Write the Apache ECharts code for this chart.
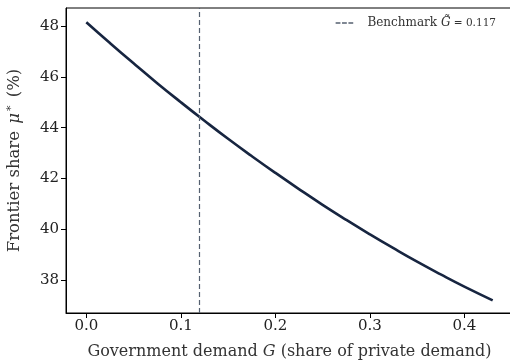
<!DOCTYPE html>
<html>
<head>
<meta charset="utf-8">
<script src="https://cdn.jsdelivr.net/npm/echarts@6/dist/echarts.min.js"></script>
<style>html,body{margin:0;padding:0;background:#fff;}#c{width:510px;height:360px;}</style>
</head>
<body>
<div id="c"></div>
<script>
var gValues = [0, 0.025, 0.05, 0.075, 0.1, 0.125, 0.15, 0.175, 0.2, 0.225, 0.25, 0.275, 0.3, 0.325, 0.35, 0.375, 0.4, 0.43];
var muValues = [48.15, 47.33, 46.53, 45.75, 45.00, 44.27, 43.56, 42.88, 42.22, 41.58, 40.96, 40.37, 39.80, 39.25, 38.72, 38.22, 37.74, 37.20];
var xTicks = [0, 0.1, 0.2, 0.3, 0.4];
var yTicks = [38, 40, 42, 44, 46, 48];
var benchmarkG = 0.117;

var serif = 'DejaVu Serif';
var chart = echarts.init(document.getElementById('c'));
var lineData = gValues.map(function (g, i) { return [g, muValues[i]]; });
var dashColor = '#556070';

chart.setOption({
  animation: false,
  backgroundColor: '#fff',
  grid: { left: 66, top: 8, bottom: 47, width: 447, show: true, borderColor: '#000', borderWidth: 1,
          containLabel: false, outerBoundsMode: 'none' },
  legend: {
    top: 12, right: 9,
    itemWidth: 22, itemHeight: 1.6, itemGap: 8,
    data: [{ name: 'Benchmark', icon: 'path://M0,0h6v2h-6z M8,0h6v2h-6z M16,0h6v2h-6z' }],
    formatter: function () { return '{b|Benchmark} {i|G\u0303}{n| = 0.117}'; },
    textStyle: {
      fontFamily: serif, fontSize: 12, color: '#333',
      rich: {
        b: { fontFamily: serif, fontSize: 12, color: '#333', padding: [0, 0, 0, 7] },
        i: { fontFamily: serif, fontStyle: 'italic', fontSize: 12, color: '#333' },
        n: { fontFamily: serif, fontSize: 10.5, color: '#333' }
      }
    }
  },
  xAxis: {
    type: 'value', min: -0.0215, max: 0.4515,
    splitLine: { show: false },
    axisLine: { show: true, onZero: false, lineStyle: { color: '#000', width: 1 } },
    axisTick: { show: true, length: 5, lineStyle: { color: '#000' }, customValues: xTicks },
    axisLabel: { customValues: xTicks, fontFamily: serif, fontSize: 15, color: '#222', margin: 6,
      formatter: function (v) { return v.toFixed(1); } },
    name: 'Government demand {i|G} (share of private demand)',
    nameLocation: 'middle', nameGap: 31,
    nameTextStyle: { fontFamily: serif, fontSize: 16, color: '#333',
      rich: { i: { fontFamily: serif, fontStyle: 'italic', fontSize: 16, color: '#333' } } }
  },
  yAxis: {
    type: 'value', min: 36.7, max: 48.71,
    splitLine: { show: false },
    axisLine: { show: true, onZero: false, lineStyle: { color: '#000', width: 1 } },
    axisTick: { show: true, length: 5, lineStyle: { color: '#000' }, customValues: yTicks },
    axisLabel: { customValues: yTicks, fontFamily: serif, fontSize: 15, color: '#222', margin: 7 },
    name: 'Frontier share {i|μ}{s|*} (%)',
    nameLocation: 'middle', nameGap: 42,
    nameTextStyle: { fontFamily: serif, fontSize: 16.5, color: '#333',
      rich: {
        i: { fontFamily: serif, fontStyle: 'italic', fontSize: 16.5, color: '#333', padding: [0, 2, 0, 2] },
        s: { fontFamily: serif, fontSize: 11, color: '#333', verticalAlign: 'top', padding: [0, 3, 7, 0] }
      } }
  },
  series: [
    {
      name: 'Frontier', type: 'line', data: lineData, showSymbol: false, symbol: 'none', smooth: true,
      lineStyle: { color: '#172540', width: 2.6 }, z: 3
    },
    {
      name: 'Benchmark', type: 'line', data: [], symbol: 'none',
      lineStyle: { color: dashColor, width: 1.2, type: [5, 3] },
      itemStyle: { color: dashColor },
      markLine: {
        silent: true, symbol: 'none', label: { show: false },
        lineStyle: { color: dashColor, width: 1.2, type: [5, 3] },
        data: [{ xAxis: benchmarkG }]
      }
    }
  ]
});
</script>
</body>
</html>
